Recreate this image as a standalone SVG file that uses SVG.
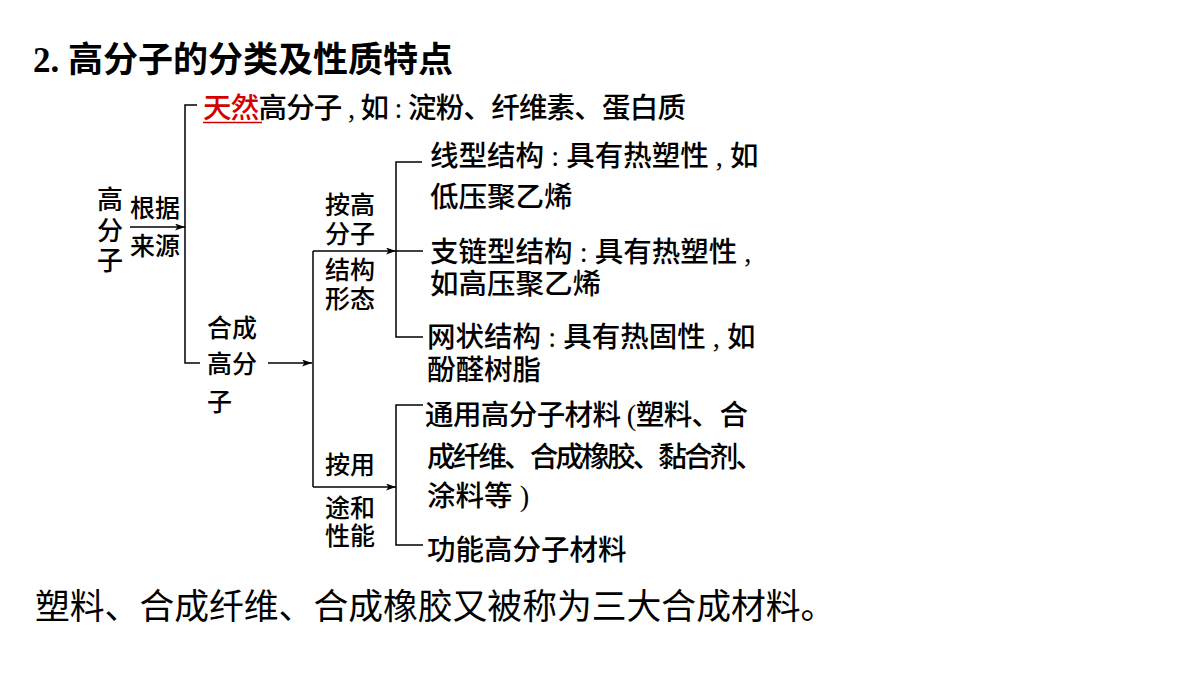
<svg xmlns="http://www.w3.org/2000/svg" width="1200" height="675" viewBox="0 0 1200 675">
<defs>
<style>
text{font-family:"Liberation Serif","Noto Sans CJK SC",serif;fill:#000}
.t{font-size:28.5px;font-weight:500}
.l{font-size:25px;font-weight:500}
.ttl{font-size:35px;font-weight:bold}
.bt{font-size:34.8px}
.red{fill:#d40000}
.ln{fill:none;stroke:#000;stroke-width:1.5}
</style>
<marker id="ah" markerUnits="userSpaceOnUse" markerWidth="12" markerHeight="8" refX="10" refY="3.5" orient="auto">
<path d="M0,0 L10,3.5 L0,7 L2.5,3.5 z" fill="#000"/>
</marker>
</defs>
<rect width="1200" height="675" fill="#fff"/>
<g id="title"><text class="ttl" x="33" y="72">2. 高分子的分类及性质特点</text></g>
<g id="connectors">
<polyline class="ln" points="197,105 185,105 185,363 200,363"/>
<line class="ln" x1="130" y1="227" x2="185" y2="227" marker-end="url(#ah)"/>
<line class="ln" x1="268" y1="363" x2="312" y2="363" marker-end="url(#ah)"/>
<line class="ln" x1="313" y1="251" x2="313" y2="487"/>
<line class="ln" x1="313" y1="251" x2="396" y2="251" marker-end="url(#ah)"/>
<line class="ln" x1="396" y1="251" x2="423" y2="251"/>
<polyline class="ln" points="422,162 396,162 396,337 423,337"/>
<line class="ln" x1="313" y1="487" x2="396" y2="487" marker-end="url(#ah)"/>
<polyline class="ln" points="423,405 396,405 396,545 423,545"/>
</g>
<g id="root"><text class="l" style="font-size:26px"><tspan x="97" y="209">高</tspan><tspan x="97" y="240">分</tspan><tspan x="97" y="270">子</tspan></text></g>
<g id="label-source"><text class="l"><tspan x="130" y="217">根据</tspan><tspan x="130" y="255">来源</tspan></text></g>
<g id="natural"><text class="t" x="203" y="118" textLength="483" lengthAdjust="spacing"><tspan class="red">天然</tspan>高分子 , 如 : 淀粉、纤维素、蛋白质</text><line x1="203" y1="122.5" x2="262" y2="122.5" stroke="#d40000" stroke-width="1.5"/></g>
<g id="synthetic"><text class="l"><tspan x="207" y="337">合成</tspan><tspan x="207" y="373">高分</tspan><tspan x="207" y="411">子</tspan></text></g>
<g id="label-structure"><text class="l"><tspan x="325" y="214">按高</tspan><tspan x="325" y="243">分子</tspan><tspan x="325" y="279">结构</tspan><tspan x="325" y="308">形态</tspan></text></g>
<g id="label-use"><text class="l"><tspan x="325" y="474">按用</tspan><tspan x="325" y="517">途和</tspan><tspan x="325" y="545">性能</tspan></text></g>
<g id="linear"><text class="t"><tspan x="430" y="166">线型结构 : 具有热塑性 , 如</tspan><tspan x="430" y="207">低压聚乙烯</tspan></text></g>
<g id="branched"><text class="t"><tspan x="430" y="262">支链型结构 : 具有热塑性 ,</tspan><tspan x="430" y="294">如高压聚乙烯</tspan></text></g>
<g id="network"><text class="t"><tspan x="427" y="347">网状结构 : 具有热固性 , 如</tspan><tspan x="427" y="380">酚醛树脂</tspan></text></g>
<g id="general"><text class="t" x="425" y="425" textLength="323" lengthAdjust="spacing">通用高分子材料 (塑料、合</text><text class="t" x="427" y="467" textLength="337" lengthAdjust="spacing">成纤维、合成橡胶、黏合剂、</text><text class="t" x="427" y="506">涂料等 )</text></g>
<g id="functional"><text class="t" x="427" y="560">功能高分子材料</text></g>
<g id="note"><text class="bt" x="35" y="619">塑料、合成纤维、合成橡胶又被称为三大合成材料。</text></g>
</svg>
